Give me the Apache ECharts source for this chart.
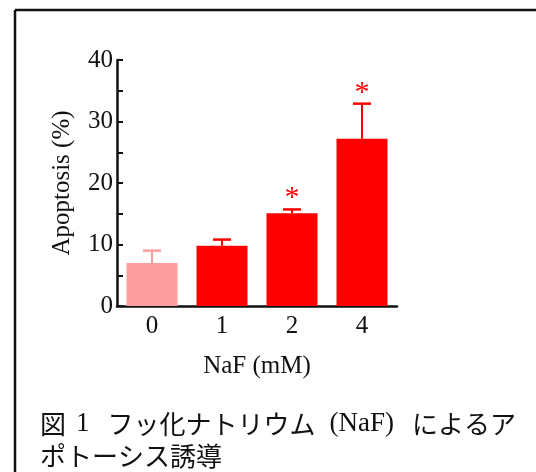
<!DOCTYPE html>
<html>
<head>
<meta charset="utf-8">
<script src="https://cdn.jsdelivr.net/npm/echarts@6/dist/echarts.min.js"></script>
<style>
html,body{margin:0;padding:0;background:#fff;}
#chart{width:536px;height:472px;}
</style>
</head>
<body>
<div id="chart"></div>
<script>
var categories = ['0', '1', '2', '4'];
var means = [7.0, 9.8, 15.1, 27.2];
var errors = [2.0, 1.0, 0.6, 5.7];
var significant = [false, false, true, true];
var yTicks = [0, 10, 20, 30, 40];

var PINK = '#ff9e9e';
var RED = '#ff0000';
var SERIF = '"Liberation Serif", "DejaVu Serif", serif';
var CJK = '"Noto Sans CJK JP", "Noto Sans", sans-serif';

var chart = echarts.init(document.getElementById('chart'));

var barData = means.map(function (v, i) {
  return { value: v, itemStyle: { color: i === 0 ? PINK : RED } };
});
var errData = means.map(function (v, i) {
  return [i, v, v + errors[i], significant[i] ? 1 : 0];
});

chart.setOption({
  backgroundColor: '#fff',
  animation: false,
  title: {
    left: 35,
    top: 403,
    text: '{c|図}{s1| }{l|1}{s2| }{c|フッ化ナトリウム}{s3| }{l|(NaF)}{s4| }{c|によるア}\n{c|ポトーシス誘導}',
    textStyle: {
      fontWeight: 'normal',
      rich: {
        c: { fontFamily: CJK, fontSize: 26, fontWeight: 'normal', color: '#111', lineHeight: 32 },
        l: { fontFamily: SERIF, fontSize: 27, fontWeight: 'normal', color: '#111', lineHeight: 32 },
        s1: { width: 10, fontSize: 26, lineHeight: 32 },
        s2: { width: 18, fontSize: 26, lineHeight: 32 },
        s3: { width: 14, fontSize: 26, lineHeight: 32 },
        s4: { width: 18, fontSize: 26, lineHeight: 32 }
      }
    }
  },
  graphic: [
    { type: 'line', shape: { x1: 15, y1: 10, x2: 536, y2: 10 }, style: { stroke: '#111', lineWidth: 2.5 } },
    { type: 'line', shape: { x1: 15, y1: 10, x2: 15, y2: 472 }, style: { stroke: '#111', lineWidth: 2.5 } }
  ],
  grid: { left: 117, top: 60, width: 280, height: 246, containLabel: false },
  xAxis: {
    type: 'category',
    data: categories,
    name: 'NaF (mM)',
    nameLocation: 'middle',
    nameGap: 48,
    nameTextStyle: { fontFamily: SERIF, fontSize: 25, color: '#111' },
    axisLine: { lineStyle: { color: '#111', width: 2.5 } },
    axisTick: { show: false },
    axisLabel: { fontFamily: SERIF, fontSize: 25, color: '#111', margin: 8 }
  },
  yAxis: {
    type: 'value',
    min: 0,
    max: 40,
    interval: 5,
    name: 'Apoptosis (%)',
    nameLocation: 'middle',
    nameGap: 42,
    nameTextStyle: { fontFamily: SERIF, fontSize: 25, color: '#111' },
    axisLine: { show: true, lineStyle: { color: '#111', width: 2.5 } },
    axisTick: { show: true, inside: true, length: 6, lineStyle: { color: '#111', width: 2 } },
    splitLine: { show: false },
    axisLabel: {
      fontFamily: SERIF, fontSize: 25, color: '#111', margin: 4,
      formatter: function (v) { return yTicks.indexOf(v) >= 0 ? String(v) : ''; }
    }
  },
  series: [
    {
      type: 'bar',
      data: barData,
      barWidth: 51,
      z: 2
    },
    {
      type: 'custom',
      data: errData,
      z: 3,
      renderItem: function (params, api) {
        var idx = api.value(0);
        var lo = api.coord([idx, api.value(1)]);
        var hi = api.coord([idx, api.value(2)]);
        var col = idx === 0 ? PINK : RED;
        var cap = 18;
        var children = [
          { type: 'line', shape: { x1: lo[0], y1: lo[1], x2: hi[0], y2: hi[1] }, style: { stroke: col, lineWidth: 2 } },
          { type: 'line', shape: { x1: hi[0] - cap / 2, y1: hi[1], x2: hi[0] + cap / 2, y2: hi[1] }, style: { stroke: col, lineWidth: 2.5 } }
        ];
        if (api.value(3)) {
          children.push({
            type: 'text',
            style: {
              text: '*', x: hi[0], y: hi[1] + 4,
              align: 'center', verticalAlign: 'bottom',
              fontFamily: SERIF, fontSize: 30, fill: RED
            }
          });
        }
        return { type: 'group', children: children };
      }
    }
  ]
});
</script>
</body>
</html>
